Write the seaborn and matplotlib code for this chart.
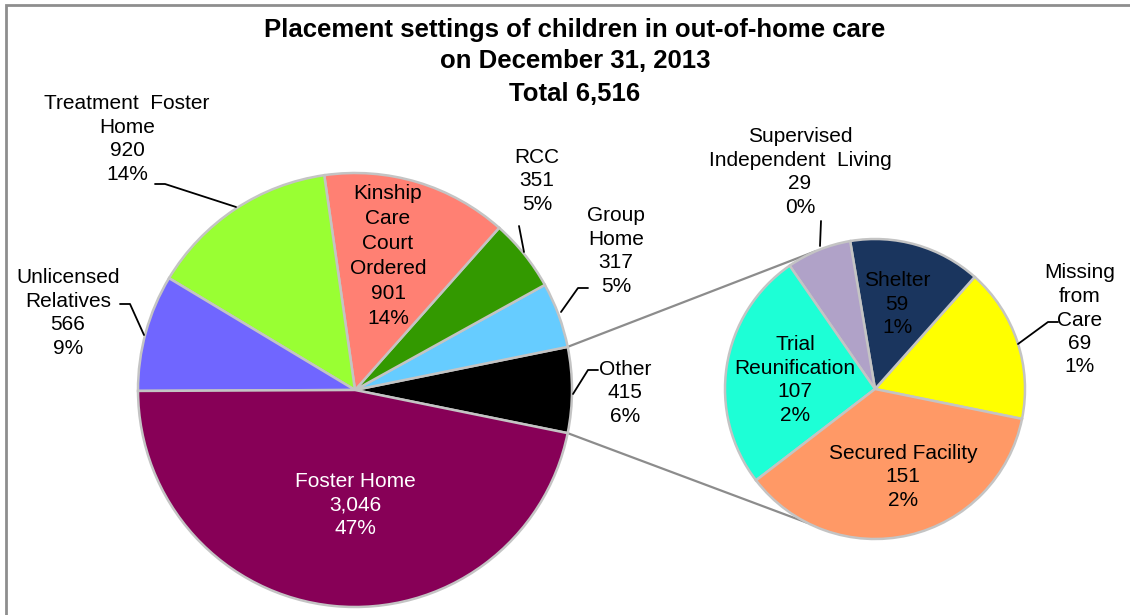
import numpy as np
import matplotlib
matplotlib.use("Agg")
import matplotlib.pyplot as plt
from matplotlib.patches import Rectangle
import seaborn as sns

# main pie (counter-clockwise, starting with the combined "Other" slice)
main_labels = ["Other", "Group\nHome", "RCC", "Kinship\nCare\nCourt\nOrdered",
               "Treatment  Foster\nHome", "Unlicensed\nRelatives", "Foster Home"]
main_values = [415, 317, 351, 901, 920, 566, 3046]
main_colors = ["#000000", "#66CCFF", "#339900", "#FF8073",
               "#99FF33", "#7066FF", "#870057"]

# breakdown of "Other"
sub_labels = ["Missing\nfrom\nCare", "Shelter", "Supervised\nIndependent  Living",
              "Trial\nReunification", "Secured Facility"]
sub_values = [69, 59, 29, 107, 151]
sub_colors = ["#FFFF00", "#1A355E", "#B0A2C8", "#1DFFD6", "#FF9966"]

title_lines = ["Placement settings of children in out-of-home care",
               "on December 31, 2013", "Total 6,516"]

W, H = 1130, 615


def Y(y):
    return H - y


sns.set_theme(style="white")
plt.rcParams["font.family"] = ["Liberation Sans", "DejaVu Sans"]

fig = plt.figure(figsize=(W / 100, H / 100), dpi=100)
ax = fig.add_axes([0, 0, 1, 1])

total = sum(main_values)
main_c, main_r = (355, Y(390)), 217
sub_c, sub_r = (875, Y(389)), 150
edge = dict(edgecolor="#C4C4C4", linewidth=1.8)

start = -main_values[0] / total * 360 / 2
wedges, _ = ax.pie(main_values, colors=main_colors, startangle=start,
                   center=main_c, radius=main_r, wedgeprops=edge)
sub_wedges, _ = ax.pie(sub_values, colors=sub_colors, startangle=-11.5,
                       center=sub_c, radius=sub_r, wedgeprops=edge)

# connector lines between "Other" and the second pie
oth = wedges[0]
for a_main, a_sub in [(oth.theta2, 113), (oth.theta1, 243)]:
    p1 = (main_c[0] + main_r * np.cos(np.radians(a_main)),
          main_c[1] + main_r * np.sin(np.radians(a_main)))
    p2 = (sub_c[0] + sub_r * np.cos(np.radians(a_sub)),
          sub_c[1] + sub_r * np.sin(np.radians(a_sub)))
    ax.plot([p1[0], p2[0]], [p1[1], p2[1]], color="#8C8C8C", lw=1.6, zorder=0)


def label_text(name, v):
    return f"{name}\n{v:,}\n{round(v / total * 100)}%"


fs = 15
main_pos = [(625, 393), (616, 251), (537, 181), (388, 256),
            (127, 139), (68, 313), (355, 505)]
for name, v, (x, y) in zip(main_labels, main_values, main_pos):
    col = "white" if name == "Foster Home" else "black"
    ls = 1.4 if name.startswith("Kinship") else 1.3
    ax.text(x, Y(y), label_text(name, v), ha="center", va="center",
            fontsize=fs, color=col, linespacing=ls, multialignment="center")

sub_pos = [(1080, 320), (897, 304), (800, 172), (795, 380), (903, 477)]
for name, v, (x, y) in zip(sub_labels, sub_values, sub_pos):
    ax.text(x, Y(y), label_text(name, v), ha="center", va="center",
            fontsize=fs, color="black", linespacing=1.3, multialignment="center")

# leader lines
leaders = [
    [(155, 184), (165, 184), (236, 207)],
    [(120, 304), (130, 304), (144, 335)],
    [(519, 226), (524, 252)],
    [(588, 288), (578, 288), (561, 312)],
    [(598, 370), (588, 370), (573, 394)],
    [(821, 221), (820, 246)],
    [(1058, 322), (1048, 322), (1018, 344)],
]
for pts in leaders:
    xs, ys = zip(*pts)
    ax.plot(xs, [Y(v) for v in ys], color="black", lw=1.3)

for line, y in zip(title_lines, [30, 61, 94]):
    ax.text(575, Y(y), line, ha="center", va="center", fontsize=18.5,
            fontweight="bold", color="black")

ax.add_patch(Rectangle((6, -50), 1200, Y(5) + 50, fill=False,
                       edgecolor="#8E8E8E", lw=2, clip_on=False))

ax.set_xlim(0, W)
ax.set_ylim(0, H)
ax.set_aspect("equal")
ax.axis("off")

fig.savefig("out.png", dpi=100)
